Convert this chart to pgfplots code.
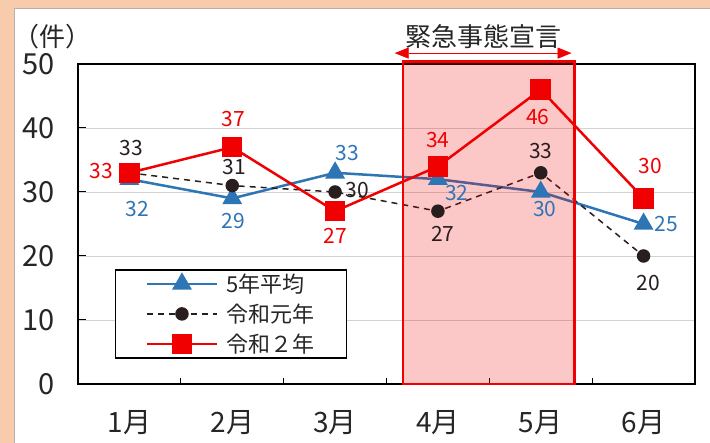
\documentclass[border=0pt]{standalone}
\usepackage{fontspec}
\setmainfont{Noto Sans CJK JP}
\usepackage{pgfplots}
\pgfplotsset{compat=1.18}
\usepackage{pgfplotstable}
\usetikzlibrary{arrows.meta}

\definecolor{bgbeige}{RGB}{248,203,173}
\definecolor{avgblue}{RGB}{46,117,182}
\definecolor{r1black}{RGB}{40,30,30}
\definecolor{r2red}{RGB}{240,0,0}
\definecolor{gridgray}{RGB}{210,210,210}
\definecolor{txtgray}{RGB}{38,38,38}

% x, value, label text, label offset (dx, dy in pt)
\pgfplotstableread{
x y lab dx dy
1 32 32 8 -30
2 29 29 1 -23
3 33 33 12 20
4 32 32 19 -14
5 30 30 4 -17
6 25 25 23 0
}\avg
\pgfplotstableread{
x y lab dx dy
1 33 33 2 25
2 31 31 2 19
3 30 30 22 2
4 27 27 5 -23
5 33 33 0 22
6 20 20 5 -27
}\rone
\pgfplotstableread{
x y lab dx dy
1 33 33 -28 2
2 37 37 1 28
3 27 27 0 -25
4 34 34 0 26
5 46 46 -3 -27
6 29 30 7 32
}\rtwo

\pgfplotsset{
  vlabels/.style={forget plot, draw=none, mark=none,
    nodes near coords, point meta=explicit symbolic,
    visualization depends on={\thisrow{dx}\as\ldx},
    visualization depends on={\thisrow{dy}\as\ldy},
    every node near coord/.append style={anchor=center, inner sep=0pt,
      xshift=\ldx, yshift=\ldy,
      font=\fontsize{21}{21}\selectfont, text=#1}},
}

\begin{document}
\begin{tikzpicture}
\fill[bgbeige] (0,0) rectangle (710pt,443pt);
\fill[white] (14pt,0) rectangle (710pt,435pt);
\draw[gray!60, line width=0.6pt] (14pt,-1pt) -- (14pt,435pt) -- (711pt,435pt);

\begin{axis}[
  at={(78pt,59pt)}, anchor=south west,
  scale only axis, width=617pt, height=320pt,
  xmin=0.5, xmax=6.5, ymin=0, ymax=50,
  clip=false,
  axis line style={black, line width=1.6pt},
  xtick={1,...,6},
  xticklabels={1月,2月,3月,4月,5月,6月},
  minor x tick num=1,
  major x tick style={draw=none},
  minor x tick style={black, line width=1pt},
  minor tick length=6pt,
  ytick={0,10,...,50},
  major tick length=8pt,
  y tick style={black, line width=1pt},
  tick align=inside, xtick pos=bottom, ytick pos=left,
  ymajorgrids, grid style={gridgray, line width=0.8pt},
  ticklabel style={text=txtgray},
  yticklabel style={font=\fontsize{29}{29}\selectfont, xshift=-20pt},
  xticklabel style={font=\fontsize{28}{28}\selectfont, yshift=-23pt},
  /pgf/number format/assume math mode=true,
  legend image code/.code={
    \draw[mark repeat=2, mark phase=2] plot coordinates {(0pt,0pt) (35pt,0pt) (70pt,0pt)};},
  legend cell align=left,
  legend style={at={(0.06,0.359)}, anchor=north west, draw=black,
    line width=1.4pt, fill=white, inner xsep=30pt, inner ysep=2pt,
    row sep=6pt, column sep=6pt,
    font=\fontsize{22}{22}\selectfont, text=txtgray,
    nodes={inner sep=2pt}},
]

\addplot[avgblue, line width=2.5pt, mark=triangle*, mark size=9pt,
  mark options={solid}]
  table[x=x, y=y] {\avg};
\addlegendentry{5年平均}

\addplot[r1black, line width=1.5pt, dash pattern=on 6pt off 5pt,
  mark=*, mark size=6pt, mark options={solid}]
  table[x=x, y=y] {\rone};
\addlegendentry{令和元年}

\addplot[r2red, line width=2.5pt, mark=square*, mark size=9pt,
  mark options={solid}]
  table[x=x, y=y] {\rtwo};
\addlegendentry{令和２年}

% value labels
\addplot[vlabels=avgblue] table[x=x, y=y, meta=lab] {\avg};
\addplot[vlabels=r1black] table[x=x, y=y, meta=lab] {\rone};
\addplot[vlabels=r2red] table[x=x, y=y, meta=lab] {\rtwo};

% emergency declaration period
\fill[r2red, fill opacity=0.22] (axis cs:3.66,0) rectangle (axis cs:5.33,50.4);
\draw[r2red, line width=2.5pt] (axis cs:3.66,0) rectangle (axis cs:5.33,50.4);
\draw[r2red, line width=0.8pt, {Triangle[length=14pt,width=11pt]}-{Triangle[length=14pt,width=11pt]}]
  (axis cs:3.58,51.7) -- (axis cs:5.30,51.7);
\node[font=\fontsize{26}{26}\selectfont, text=txtgray] at (axis cs:4.44,54.3) {緊急事態宣言};
\node[font=\fontsize{26}{26}\selectfont, text=txtgray] at (axis cs:0.25,54.3) {（件）};
\end{axis}

\pgfresetboundingbox
\useasboundingbox (0,0) rectangle (710pt,443pt);
\end{tikzpicture}
\end{document}
